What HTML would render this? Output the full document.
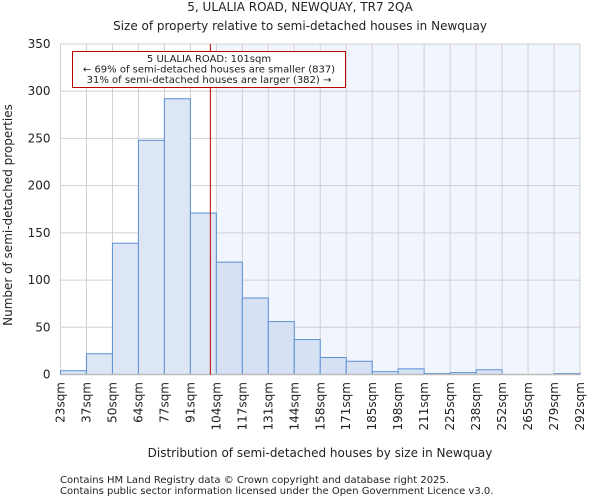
<!DOCTYPE html>
<html><head><meta charset="utf-8"><style>
body{margin:0;background:#fff;font-family:"DejaVu Sans","Liberation Sans",sans-serif;}
text{font-family:"DejaVu Sans","Liberation Sans",sans-serif;fill:#222;}
</style></head><body>
<svg id="chart" width="600" height="500" xmlns="http://www.w3.org/2000/svg">
<text x="300" y="11" text-anchor="middle" font-size="12">5, ULALIA ROAD, NEWQUAY, TR7 2QA</text>
<text x="300" y="30" text-anchor="middle" font-size="12">Size of property relative to semi-detached houses in Newquay</text>
<g id="plot"></g>
<text x="320" y="457" text-anchor="middle" font-size="12">Distribution of semi-detached houses by size in Newquay</text>
<text transform="translate(12,215) rotate(-90)" text-anchor="middle" font-size="12">Number of semi-detached properties</text>
<text x="60" y="483" font-size="10" fill="#444">Contains HM Land Registry data © Crown copyright and database right 2025.</text>
<text x="60" y="494" font-size="10" fill="#444">Contains public sector information licensed under the Open Government Licence v3.0.</text>
</svg>
<script>
const binLabels=["23sqm","37sqm","50sqm","64sqm","77sqm","91sqm","104sqm","117sqm","131sqm","144sqm","158sqm","171sqm","185sqm","198sqm","211sqm","225sqm","238sqm","252sqm","265sqm","279sqm","292sqm"];
const counts=[4,22,139,248,292,171,119,81,56,37,18,14,3,6,1,2,5,0,0,1];
const yTicks=[0,50,100,150,200,250,300,350];
const markerBin=5+10/13; // 101sqm position in bin units
const NS="http://www.w3.org/2000/svg";
const X0=60.5,X1=580,Y0=374.5,Y1=44,YMAX=350;
const bw=(X1-X0)/counts.length;
const xs=i=>X0+i*bw;
const ys=v=>Y0-(v/YMAX)*(Y0-Y1);
const g=document.getElementById('plot');
function mk(t,a){const e=document.createElementNS(NS,t);for(const k in a)e.setAttribute(k,a[k]);g.appendChild(e);return e;}
const mx=xs(markerBin);
const shade=mk('rect',{x:xs(6),y:Y1,width:X1-xs(6),height:Y0-Y1,fill:'#f1f5fd'});


for(let i=0;i<binLabels.length;i++){const l=mk('line',{x1:xs(i),x2:xs(i),y1:Y1,y2:Y0,stroke:'#d0d0d0','stroke-width':1});

}
yTicks.forEach(v=>{const l=mk('line',{x1:X0,x2:X1,y1:ys(v),y2:ys(v),stroke:'#d0d0d0','stroke-width':1});


const t=mk('text',{x:X0-10,y:ys(v)+4,'text-anchor':'end','font-size':12});t.textContent=v;

});
counts.forEach((c,i)=>{const r=mk('rect',{x:xs(i),y:ys(c),width:bw,height:Y0-ys(c),fill:i>=6?'#d6e2f4':'#dce6f4',stroke:'#5b8fd6','stroke-width':1});

});
binLabels.forEach((s,i)=>{const t=mk('text',{transform:`translate(${xs(i)+4},382) rotate(-90)`,'text-anchor':'end','font-size':12});t.textContent=s;

});
const ax=mk('line',{x1:X0,x2:X1,y1:Y0,y2:Y0,stroke:'#bbb','stroke-width':1.5});


const ml=mk('line',{x1:mx,x2:mx,y1:Y1,y2:Y0,stroke:'#c00000','stroke-width':1});


const box=mk('rect',{x:72.5,y:51.5,width:273,height:36,fill:'#fff',stroke:'#c00000','stroke-width':1});


["5 ULALIA ROAD: 101sqm","← 69% of semi-detached houses are smaller (837)","31% of semi-detached houses are larger (382) →"].forEach((s,i)=>{const t=mk('text',{x:209,y:62+i*10.5,'text-anchor':'middle','font-size':10});t.textContent=s;

});
</script>
</body></html>
